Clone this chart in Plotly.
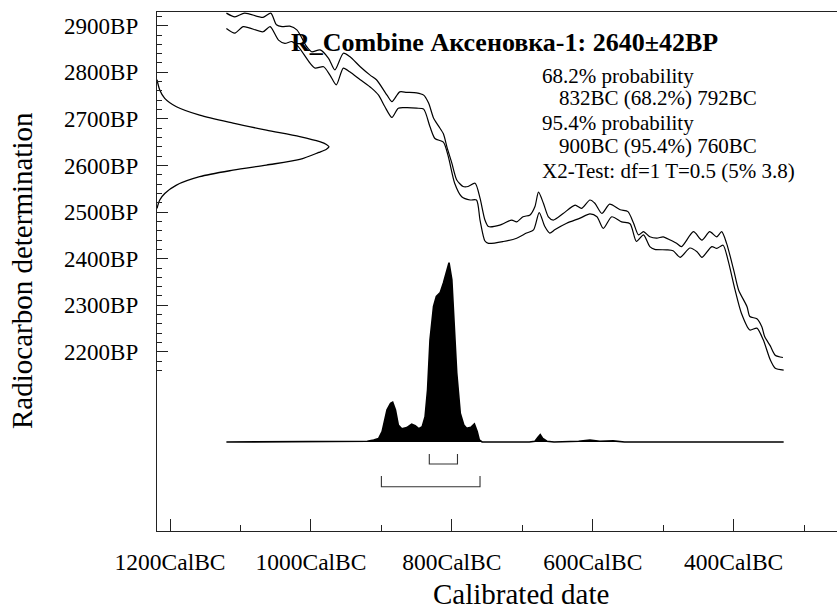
import plotly.graph_objects as go

# ---------------- data ----------------
# calibration curve envelope (cal BC, BP)
upper_bc = [1120, 1108, 1094, 1068, 1057, 1049, 1041, 1030, 1020, 1006, 999, 987, 975, 966, 954, 945, 930, 916, 907,
            892, 885, 874, 864, 850, 840, 833, 826, 819, 812, 807, 800, 793, 784, 777, 767, 760, 753, 748, 732, 715,
            708, 699, 689, 682, 677, 670, 663, 656, 642, 625, 616, 604, 597, 587, 576, 561, 550, 542, 535, 528, 519,
            509, 500, 490, 481, 474, 457, 445, 434, 424, 417, 410, 400, 393, 381, 377, 367, 360, 356, 348, 341, 330]
upper_bp = [2927, 2919, 2927, 2918, 2927, 2902, 2898, 2899, 2891, 2855, 2844, 2848, 2830, 2805, 2841, 2834, 2812, 2794,
            2784, 2751, 2737, 2758, 2757, 2756, 2751, 2734, 2702, 2685, 2668, 2640, 2605, 2569, 2555, 2555, 2562, 2530,
            2483, 2469, 2472, 2483, 2479, 2490, 2494, 2512, 2543, 2519, 2490, 2483, 2497, 2515, 2508, 2526, 2519, 2497,
            2517, 2505, 2501, 2476, 2451, 2458, 2447, 2444, 2447, 2440, 2433, 2426, 2458, 2440, 2458, 2447, 2458, 2433,
            2376, 2333, 2297, 2276, 2271, 2254, 2233, 2213, 2193, 2188]
lower_bc = [1120, 1108, 1096, 1068, 1058, 1046, 1037, 1027, 1018, 1001, 994, 982, 973, 964, 954, 945, 930, 914, 904,
            895, 885, 876, 864, 850, 840, 831, 824, 812, 805, 796, 786, 774, 765, 760, 753, 748, 727, 708, 694, 684,
            676, 668, 661, 654, 637, 618, 604, 594, 585, 573, 559, 547, 538, 528, 519, 512, 495, 486, 476, 462, 452,
            445, 431, 424, 415, 408, 398, 389, 377, 367, 358, 348, 341, 329]
lower_bp = [2894, 2884, 2898, 2887, 2898, 2869, 2862, 2866, 2855, 2819, 2809, 2812, 2794, 2773, 2809, 2801, 2784, 2766,
            2751, 2726, 2703, 2723, 2724, 2723, 2721, 2683, 2658, 2650, 2619, 2562, 2533, 2526, 2526, 2483, 2438, 2433,
            2437, 2444, 2455, 2462, 2499, 2469, 2455, 2462, 2476, 2487, 2496, 2490, 2465, 2490, 2479, 2475, 2437, 2451,
            2426, 2420, 2419, 2417, 2403, 2423, 2415, 2403, 2426, 2422, 2429, 2397, 2333, 2283, 2247, 2251, 2226, 2183,
            2165, 2161]

# radiocarbon measurement distribution (BP, relative density)
gauss_bp = [2784, 2762, 2744, 2726, 2708, 2691, 2676, 2662, 2651, 2645, 2640, 2635, 2628, 2613, 2601, 2590, 2576,
            2558, 2540, 2526, 2508]
gauss_rel = [0.0, 0.016, 0.045, 0.113, 0.248, 0.442, 0.636, 0.830, 0.946, 0.985, 1.0, 0.985, 0.94, 0.830, 0.636,
             0.442, 0.248, 0.113, 0.045, 0.016, 0.0]

# calibrated date distribution (cal BC, relative probability)
dist_bc = [1120, 980, 968, 962, 935, 920, 911, 904, 899, 892, 887, 884, 880, 876, 871, 864, 857, 852, 847, 842, 838,
           834.5, 831, 826, 822, 816.5, 812, 807, 804, 800, 797, 793, 788, 783, 779, 773, 768, 764, 761, 757, 690, 682,
           678, 674.5, 671, 665, 655, 620, 604, 590, 571, 555, 329]
dist_rel = [0, 0, 0.004, 0, 0, 0.004, 0.011, 0.019, 0.058, 0.179, 0.216, 0.222, 0.179, 0.095, 0.074, 0.080, 0.099,
            0.091, 0.074, 0.086, 0.141, 0.29, 0.57, 0.756, 0.812, 0.834, 0.887, 0.961, 1.0, 0.906, 0.663, 0.384, 0.160,
            0.095, 0.076, 0.082, 0.101, 0.058, 0.011, 0, 0, 0.004, 0.025, 0.041, 0.02, 0.004, 0, 0.004, 0.011, 0.004,
            0.006, 0, 0]

range68 = [832, 792]
range95 = [900, 760]

x_major = [1200, 1000, 800, 600, 400]
x_minor = [1100, 900, 700, 500, 300]
x_labels = ["1200CalBC", "1000CalBC", "800CalBC", "600CalBC", "400CalBC"]
y_major = [2200, 2300, 2400, 2500, 2600, 2700, 2800, 2900]
y_minor = list(range(2160, 2921, 20))
y_labels = ["2200BP", "2300BP", "2400BP", "2500BP", "2600BP", "2700BP", "2800BP", "2900BP"]

title_text = "R_Combine Аксеновка-1: 2640±42BP"
info_lines = ["68.2% probability", "832BC (68.2%) 792BC", "95.4% probability", "900BC (95.4%) 760BC",
              "X2-Test: df=1 T=0.5 (5% 3.8)"]
info_indent = [False, True, False, True, False]

# ---------------- figure ----------------
FONT = "Liberation Serif"
INK = "#000000"

fig = go.Figure()

fig.add_trace(go.Scatter(x=upper_bc, y=upper_bp, mode="lines",
                         line=dict(color=INK, width=1.2, shape="spline", smoothing=0.7), hoverinfo="skip"))
fig.add_trace(go.Scatter(x=lower_bc, y=lower_bp, mode="lines",
                         line=dict(color=INK, width=1.2, shape="spline", smoothing=0.7), hoverinfo="skip"))

fig.add_trace(go.Scatter(x=gauss_rel, y=gauss_bp, xaxis="x2", yaxis="y", mode="lines",
                         line=dict(color=INK, width=1.3, shape="spline", smoothing=0.8), hoverinfo="skip"))

fig.add_trace(go.Scatter(x=dist_bc, y=dist_rel, xaxis="x", yaxis="y2", mode="lines", fill="tozeroy",
                         fillcolor=INK, line=dict(color=INK, width=1.6), hoverinfo="skip"))

# range brackets (y in distribution units, below baseline)
for rng, base, tip in [(range68, -0.1227, -0.067), (range95, -0.2493, -0.1896)]:
    fig.add_trace(go.Scatter(x=[rng[0], rng[0], rng[1], rng[1]], y=[tip, base, base, tip], xaxis="x", yaxis="y2",
                             mode="lines", line=dict(color="#333333", width=1.1), hoverinfo="skip"))

fig.update_layout(
    width=837, height=609,
    margin=dict(l=157, r=0, t=12, b=78, autoexpand=False),
    paper_bgcolor="white", plot_bgcolor="white",
    showlegend=False,
    font=dict(family=FONT, color=INK),
    xaxis=dict(range=[1218.5, 253.3], showgrid=False, zeroline=False, automargin=False,
               showline=True, linecolor="#222222", linewidth=1.3, mirror=True,
               ticks="inside", ticklen=12, tickwidth=1.2, tickcolor="#222222",
               tickmode="array", tickvals=x_major, ticktext=x_labels,
               tickfont=dict(family=FONT, size=23.5, color=INK), ticklabelstandoff=10,
               minor=dict(tickmode="array", tickvals=x_minor, ticks="inside", ticklen=6,
                          tickwidth=1.2, tickcolor="#222222", showgrid=False)),
    yaxis=dict(range=[1815.7, 2929.4], showgrid=False, zeroline=False, automargin=False,
               showline=True, linecolor="#222222", linewidth=1.3, mirror=False,
               ticks="inside", ticklen=11, tickwidth=1.2, tickcolor="#222222",
               tickmode="array", tickvals=y_major, ticktext=y_labels,
               tickfont=dict(family=FONT, size=23, color=INK), ticklabelstandoff=13,
               minor=dict(tickmode="array", tickvals=y_minor, ticks="inside", ticklen=5,
                          tickwidth=1.2, tickcolor="#222222", showgrid=False)),
    xaxis2=dict(overlaying="x", range=[0, 3.953], visible=False),
    yaxis2=dict(overlaying="y", range=[-0.4964, 2.398], visible=False),
)

ann = []
ann.append(dict(text="<b>" + title_text + "</b>", x=504, y=43,
                showarrow=False, font=dict(family=FONT, size=26, color=INK), xanchor="center", yanchor="middle"))
line_y = [76, 98.5, 122.5, 146, 170.5]
for txt, ind, yy in zip(info_lines, info_indent, line_y):
    ann.append(dict(text=txt, x=557 if ind else 540, y=yy, showarrow=False,
                    font=dict(family=FONT, size=21, color=INK), xanchor="left", yanchor="middle"))
ann.append(dict(text="Radiocarbon determination", x=22, y=271, textangle=-90, showarrow=False,
                font=dict(family=FONT, size=29, color=INK), xanchor="center", yanchor="middle"))
ann.append(dict(text="Calibrated date", x=521, y=594, showarrow=False,
                font=dict(family=FONT, size=29, color=INK), xanchor="center", yanchor="middle"))

# convert pixel layout positions to paper coordinates
PL, PR, PT, PB = 157, 837, 12, 531
for a in ann:
    a["x"] = (a["x"] - PL) / (PR - PL)
    a["y"] = (PB - a["y"]) / (PB - PT)
    a["xref"] = "paper"
    a["yref"] = "paper"
fig.update_layout(annotations=ann)

fig.write_html("out.html", config={"displayModeBar": False},
               post_script="document.body.style.margin='0';document.body.style.overflow='hidden';")
